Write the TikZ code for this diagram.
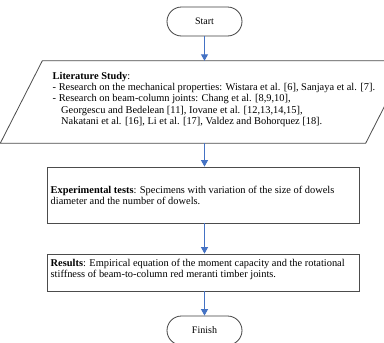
\documentclass[tikz,border=0pt]{standalone}
\usepackage{fontspec}
\setmainfont{Liberation Serif}
\usetikzlibrary{arrows.meta,calc}
\begin{document}
\begin{tikzpicture}[x=1pt,y=1pt,
  box/.style={draw=black!70,line width=0.8pt,rectangle,inner sep=0pt},
  term/.style={draw=black!75,line width=0.8pt,rectangle,rounded corners=14.5pt,minimum width=75pt,minimum height=29pt,inner sep=0pt,font=\fontsize{10}{11}\selectfont},
  flow/.style={draw={rgb,255:red,68;green,114;blue,196},line width=0.9pt,-{Triangle[width=7pt,length=6.5pt]}},
  txt/.style={inner sep=0pt,anchor=north west,align=left,font=\fontsize{10.4}{11.2}\selectfont}]
\useasboundingbox (0,0) rectangle (384,-343);
\fill[white] (0,0) rectangle (384,-343);
% nodes
\node[term] (start) at (204.5,-21.5) {Start};
\node[minimum width=365pt,minimum height=82pt,inner sep=0pt] (lit) at (204,-102) {};
\draw[black!70,line width=0.8pt] ($(lit.north west)+(21,0)$) -- ($(lit.north east)+(21,0)$) -- ($(lit.south east)+(-21,0)$) -- ($(lit.south west)+(-21,0)$) -- cycle;
\node[txt] (littext) at (52.5,-72.0) {\textbf{Literature Study}:\\
- Research on the mechanical properties: Wistara et al. [6], Sanjaya et al. [7].\\
- Research on beam-column joints: Chang et al. [8,9,10],\\
\hspace*{8.5pt}Georgescu and Bedelean [11], Iovane et al. [12,13,14,15],\\
\hspace*{8.5pt}Nakatani et al. [16], Li et al. [17], Valdez and Bohorquez [18].};
\node[box,minimum width=312pt,minimum height=56pt] (exp) at (203,-195) {};
\node[txt] (exptext) at (50.5,-186.0) {\textbf{Experimental tests}: Specimens with variation of the size of dowels\\diameter and the number of dowels.};
\node[box,minimum width=312pt,minimum height=37pt] (res) at (203,-272.5) {};
\node[txt] (restext) at (50.5,-259.0) {\textbf{Results}: Empirical equation of the moment capacity and the rotational\\stiffness of beam-to-column red meranti timber joints.};
\node[term] (finish) at (204.5,-330.5) {Finish};
% connectors
\draw[flow] (start.south) -- (start.south |- lit.north);
\draw[flow] (start.south |- lit.south) -- (start.south |- exp.north);
\draw[flow] (start.south |- exp.south) -- (start.south |- res.north);
\draw[flow] (start.south |- res.south) -- (finish.north);
\end{tikzpicture}
\end{document}
